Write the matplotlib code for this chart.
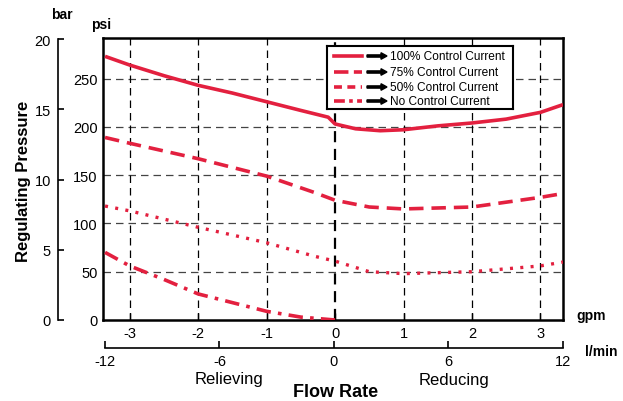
import matplotlib
matplotlib.use("Agg")
import matplotlib.pyplot as plt
from matplotlib.lines import Line2D
from matplotlib.patches import FancyArrow

plt.rcParams['font.family'] = ['Liberation Sans', 'DejaVu Sans']
plt.rcParams['axes.unicode_minus'] = False

# ---- data (flow in gpm, pressure in psi) ----
flow_100 = [-3.36, -3.0, -2.5, -2.0, -1.5, -1.0, -0.5, -0.1, 0.0, 0.3, 0.66, 1.0, 1.5, 2.0, 2.5, 3.0, 3.33]
psi_100 = [273, 264, 253, 243, 235, 226, 217, 210, 203, 198, 196, 197, 201, 204, 208, 215, 223]

flow_75 = [-3.36, -3.0, -2.0, -1.0, -0.3, 0.0, 0.5, 1.0, 2.0, 2.5, 3.0, 3.33]
psi_75 = [189, 183, 167, 149, 132, 124, 117, 115, 117, 122, 127, 131]

flow_50 = [-3.36, -3.0, -2.0, -1.0, -0.3, 0.0, 0.5, 1.0, 2.0, 3.0, 3.33]
psi_50 = [118, 113, 96, 80, 66, 61, 50, 48, 50, 56, 60]

flow_0 = [-3.36, -3.0, -2.5, -2.0, -1.5, -1.0, -0.5, 0.0]
psi_0 = [70, 56, 42, 27, 18, 9, 3, 0]

gpm_ticks = [-3, -2, -1, 0, 1, 2, 3]
psi_ticks = [0, 50, 100, 150, 200, 250]
bar_ticks = [0, 5, 10, 15, 20]
lmin_ticks = [-12, -6, 0, 6, 12]
legend_labels = ["100% Control Current", "75% Control Current",
                 "50% Control Current", "No Control Current"]

RED = '#e3203f'
W, H = 623, 402

fig = plt.figure(figsize=(W / 100, H / 100), dpi=100)

def fx(px):
    return px / W

def fy(py):
    return 1 - py / H

# main axes
ax = fig.add_axes([fx(103), fy(321), fx(563) - fx(103), fy(39) - fy(321)])
ax.set_xlim(-3.39, 3.33)
ax.set_ylim(0, 292)
ax.plot(flow_100, psi_100, color=RED, lw=2.6, solid_capstyle='butt', zorder=3)
ax.plot(flow_75, psi_75, color=RED, lw=2.6, linestyle=(0, (4, 2.2)), zorder=3)
ax.plot(flow_50, psi_50, color=RED, lw=2.4, linestyle=(0, (0.9, 2.2)), zorder=3)
ax.plot(flow_0, psi_0, color=RED, lw=2.6, linestyle=(0, (4, 2, 1, 2)), zorder=3)

ax.set_xticks(gpm_ticks)
ax.set_yticks(psi_ticks)
ax.tick_params(axis='x', direction='in', length=5, width=1, pad=4, labelsize=10.5)
ax.tick_params(axis='y', length=0, pad=4, labelsize=10.5)
for v in psi_ticks[1:]:
    ax.axhline(v, color='#444444', lw=0.9, linestyle=(0, (6, 4)), zorder=1)
for v in gpm_ticks:
    if v == 0:
        ax.axvline(v, color='black', lw=1.6, linestyle=(0, (5, 3)), zorder=2)
    else:
        ax.axvline(v, color='black', lw=0.9, linestyle=(0, (6, 4)), zorder=1)
for s in ax.spines.values():
    s.set_linewidth(1.8)

# bar axis
axb = fig.add_axes([fx(58), fy(321), 0.0005, fy(40) - fy(321)])
axb.set_ylim(0, 20)
axb.set_yticks(bar_ticks)
axb.set_xticks([])
for k in ['top', 'right', 'bottom']:
    axb.spines[k].set_visible(False)
axb.spines['left'].set_linewidth(1.2)
axb.tick_params(axis='y', direction='in', length=4, width=1.2, pad=5, labelsize=10.5)
axb.patch.set_visible(False)

# l/min axis
axl = fig.add_axes([fx(103), fy(349), fx(563) - fx(103), 0.0005])
axl.set_xlim(-12.10, 11.90)
axl.set_xticks(lmin_ticks)
axl.set_yticks([])
for k in ['top', 'right', 'left']:
    axl.spines[k].set_visible(False)
axl.spines['bottom'].set_bounds(-12, 12)
axl.spines['bottom'].set_linewidth(1.2)
axl.tick_params(axis='x', direction='in', length=5, width=1.2, pad=4, labelsize=10.5)
axl.patch.set_visible(False)

# texts
fig.text(fx(62), fy(15), 'bar', ha='center', va='center', fontsize=10, fontweight='bold')
fig.text(fx(101), fy(25), 'psi', ha='center', va='center', fontsize=10, fontweight='bold')
fig.text(fx(24), fy(181), 'Regulating Pressure', ha='center', va='center',
         rotation=90, fontsize=12, fontweight='bold')
fig.text(fx(591), fy(316), 'gpm', ha='center', va='center', fontsize=10, fontweight='bold')
fig.text(fx(601), fy(352), 'l/min', ha='center', va='center', fontsize=10, fontweight='bold')
fig.text(fx(229), fy(380), 'Relieving', ha='center', va='center', fontsize=12)
fig.text(fx(454), fy(381), 'Reducing', ha='center', va='center', fontsize=12)
fig.text(fx(336), fy(393), 'Flow Rate', ha='center', va='center', fontsize=13, fontweight='bold')

# legend box (drawn in pixel units inside an inset axes)
lx0, ly0, lx1, ly1 = 327, 47, 513, 110
axg = fig.add_axes([fx(lx0), fy(ly1), fx(lx1) - fx(lx0), fy(ly0) - fy(ly1)], zorder=5)
axg.set_xlim(0, lx1 - lx0)
axg.set_ylim(ly1 - ly0, 0)
axg.set_xticks([])
axg.set_yticks([])
for s in axg.spines.values():
    s.set_linewidth(1.5)
styles = ['-', (0, (4, 1.5)), (0, (2.2, 1.5)), (0, (3, 1.2, 1, 1.2))]
rows = [10, 26, 41, 55]
for st, yy, lab in zip(styles, rows, legend_labels):
    axg.add_line(Line2D([7, 35], [yy, yy], color=RED, lw=2.6, linestyle=st))
    axg.add_patch(FancyArrow(40, yy, 20, 0, width=2.2, head_width=6.5, head_length=6,
                             length_includes_head=True, color='black'))
    axg.text(63, yy, lab, ha='left', va='center', fontsize=8.6)

fig.savefig('out.png', dpi=100)
